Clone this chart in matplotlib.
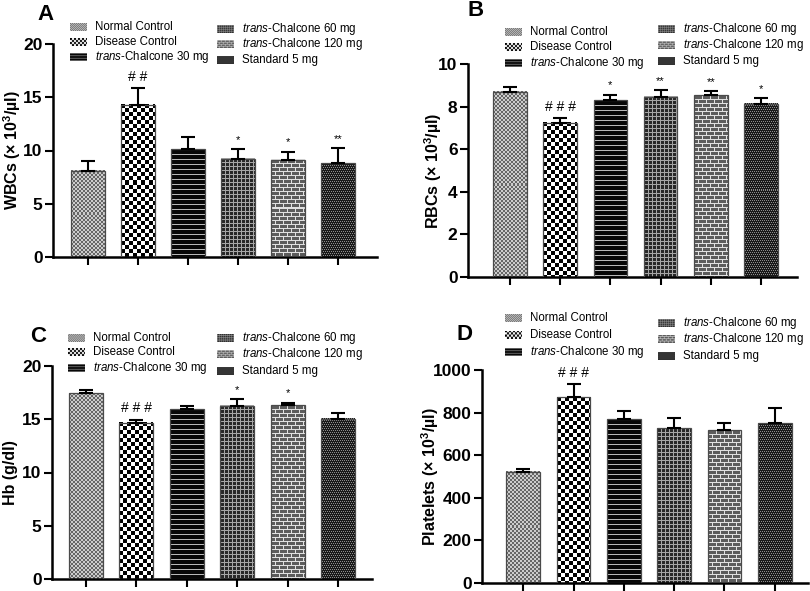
import numpy as np
import matplotlib
matplotlib.use('Agg')
import matplotlib.pyplot as plt

plt.rcParams['font.family'] = ['Liberation Sans', 'DejaVu Sans']
plt.rcParams['mathtext.fontset'] = 'custom'
plt.rcParams['mathtext.it'] = 'Liberation Sans:italic'
plt.rcParams['mathtext.bf'] = 'Liberation Sans:bold'
plt.rcParams['mathtext.rm'] = 'Liberation Sans'

W, H = 810, 591

groups = ['Normal Control', 'Disease Control', r'$\it{trans}$-Chalcone 30 mg',
          r'$\it{trans}$-Chalcone 60 mg', r'$\it{trans}$-Chalcone 120 mg', 'Standard 5 mg']

wbc_mean = [8.1, 14.28, 10.12, 9.24, 9.14, 8.8]
wbc_err = [0.95, 1.55, 1.18, 0.9, 0.76, 1.4]
wbc_sig = ['', '# #', '', '*', '*', '**']

rbc_mean = [8.70, 7.24, 8.29, 8.46, 8.54, 8.13]
rbc_err = [0.22, 0.22, 0.27, 0.32, 0.19, 0.27]
rbc_sig = ['', '# # #', '*', '**', '**', '*']

hb_mean = [17.44, 14.66, 15.94, 16.28, 16.31, 15.06]
hb_err = [0.34, 0.31, 0.34, 0.62, 0.25, 0.57]
hb_sig = ['', '# # #', '', '*', '*', '']

plt_mean = [522, 871, 768, 727, 716, 749]
plt_err = [14, 63, 38, 49, 36, 71]
plt_sig = ['', '# # #', '', '', '', '']

kinds = ['normal', 'disease', 'stripes', 'grid', 'brick', 'dots']


def pattern(kind, h, w):
    r, c = np.mgrid[0:h, 0:w]
    if kind == 'normal':
        return np.where(((r // 2) + (c // 2)) % 2 == 0, 0.40, 0.80)
    if kind == 'disease':
        return np.where(((r // 4) + (c // 4)) % 2 == 0, 0.0, 1.0)
    if kind == 'stripes':
        return np.where(r % 5 == 0, 0.72, 0.03)
    if kind == 'grid':
        return np.where((r % 4 == 0) | (c % 4 == 0), 0.65, 0.16)
    if kind == 'brick':
        off = np.where((r // 4) % 2 == 0, 0, 4)
        mortar = (r % 4 == 0) | ((c + off) % 8 == 0)
        return np.where(mortar, 0.88, 0.36)
    return np.where((r % 2 == 0) & (c % 2 == (r // 2) % 2), 0.55, 0.10)


def px_rect(left, right, top, bottom):
    return [left / W, 1 - bottom / H, (right - left) / W, (bottom - top) / H]


def draw_legend(fig, col_x, rows1, rows2):
    for j, label in enumerate(groups):
        col = 0 if j < 3 else 1
        sx = col_x[col]
        y = (rows1 if col == 0 else rows2)[j % 3]
        sw = fig.add_axes([sx / W, 1 - (y + 4) / H, 17 / W, 8 / H])
        sw.imshow(pattern(kinds[j], 16, 34), cmap='gray', vmin=0, vmax=1,
                  interpolation='antialiased', aspect='auto')
        sw.set_axis_off()
        fig.text((sx + 25) / W, 1 - y / H, label, fontsize=8.3, va='center', ha='left')


def draw_panel(fig, rect, xlim, means, errs, sig, ymax, ystep, ylabel, label_dx):
    ax = fig.add_axes(rect)
    x = np.arange(len(means))
    ax.set_xlim(*xlim)
    ax.set_ylim(0, ymax)
    for i in range(len(means)):
        x0, x1 = x[i] - 0.335, x[i] + 0.335
        p0 = ax.transData.transform((x0, 0))
        p1 = ax.transData.transform((x1, means[i]))
        w = max(int(round(p1[0] - p0[0])), 1)
        h = max(int(round(p1[1] - p0[1])), 1)
        ax.imshow(pattern(kinds[i], h, w), cmap='gray', vmin=0, vmax=1,
                  interpolation='nearest', aspect='auto',
                  extent=(x0, x1, 0, means[i]), zorder=2)
    ax.bar(x, means, width=0.67, fill=False, edgecolor='#4a4a4a', linewidth=0.9, zorder=3)
    ax.errorbar(x, means, yerr=[np.zeros(len(errs)), errs], fmt='none',
                ecolor='black', elinewidth=1.5, capsize=5, capthick=1.5, zorder=4)
    for i, s in enumerate(sig):
        if s:
            fs = 10 if '#' in s else 8
            ax.annotate(s, (x[i], means[i] + errs[i]), xytext=(0, 3),
                        textcoords='offset points', ha='center', va='bottom', fontsize=fs)
    ax.set_xlim(*xlim)
    ax.set_ylim(0, ymax)
    ax.set_aspect('auto')
    ax.set_yticks(np.arange(0, ymax + ystep / 2, ystep))
    ax.set_xticks(x)
    ax.set_xticklabels([])
    for side in ['top', 'right']:
        ax.spines[side].set_visible(False)
    for side in ['left', 'bottom']:
        ax.spines[side].set_linewidth(1.8)
    ax.tick_params(axis='both', width=1.5, length=6, labelsize=12.5, pad=1.5)
    for lab in ax.get_yticklabels():
        lab.set_fontweight('bold')
    ax.set_ylabel(ylabel, fontsize=11.5, fontweight='bold', va='center')
    ax.yaxis.set_label_coords(label_dx / (rect[2] * W), 0.5)
    return ax


fig = plt.figure(figsize=(8.1, 5.91), dpi=100)

# A
draw_panel(fig, px_rect(53, 377, 44, 257), (-0.7, 5.78), wbc_mean, wbc_err, wbc_sig, 20, 5,
           r'WBCs (× 10$^{\mathbf{3}}$/µl)', -41)
fig.text(37 / W, 1 - 15 / H, 'A', fontsize=16, fontweight='bold', va='center')
draw_legend(fig, (70, 217), (27, 42, 57), (29, 44, 60))

# B
draw_panel(fig, px_rect(468, 797, 64, 277), (-0.84, 5.72), rbc_mean, rbc_err, rbc_sig, 10, 2,
           r'RBCs (× 10$^{\mathbf{3}}$/µl)', -35)
fig.text(468 / W, 1 - 11 / H, 'B', fontsize=16, fontweight='bold', va='center')
draw_legend(fig, (505, 658), (32, 47, 63), (29, 45, 61))

# C
draw_panel(fig, px_rect(52, 372, 366, 579), (-0.67, 5.67), hb_mean, hb_err, hb_sig, 20, 5,
           'Hb (g/dl)', -42)
fig.text(30 / W, 1 - 337 / H, 'C', fontsize=16, fontweight='bold', va='center')
draw_legend(fig, (68, 217), (338, 352, 368), (338, 354, 371))

# D
draw_panel(fig, px_rect(482, 808, 370, 583), (-0.82, 5.66), plt_mean, plt_err, plt_sig, 1000, 200,
           r'Platelets (× 10$^{\mathbf{3}}$/µl)', -52)
fig.text(457 / W, 1 - 335 / H, 'D', fontsize=16, fontweight='bold', va='center')
draw_legend(fig, (505, 658), (318, 335, 352), (323, 339, 356))

fig.savefig('out.png', dpi=100)
